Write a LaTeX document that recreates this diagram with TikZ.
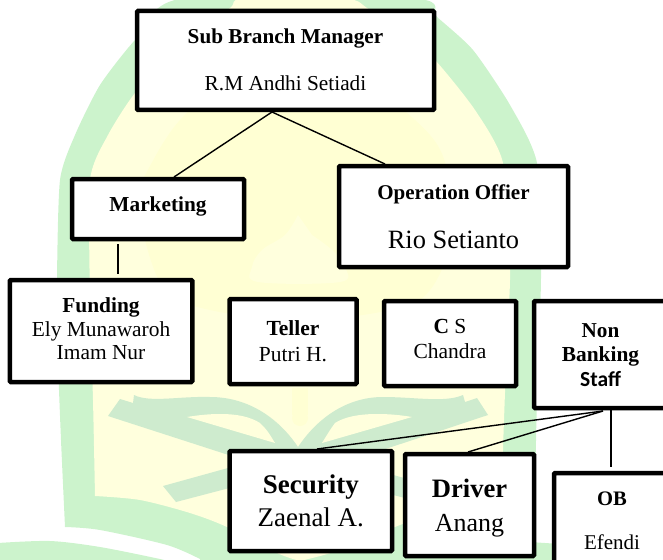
\documentclass[tikz,border=0pt]{standalone}
\usepackage{fontspec}
\setmainfont{Liberation Serif}
\newfontfamily\calib{Carlito}
\definecolor{wmgreen}{HTML}{CCF3CC}
\definecolor{wmbook}{HTML}{CEEBCE}
\definecolor{wmyellow}{HTML}{FFFFDD}
\definecolor{wmdeep}{HTML}{FFFFD3}
\newcommand{\Ln}[4]{\makebox[0pt][c]{\raisebox{#1pt}[0pt][0pt]{\fontsize{#2}{#2}\selectfont #3{#4}}}}
\tikzset{
  orgbox/.style={draw=black,fill=white,line width=4.5pt,rounded corners=1pt,inner sep=0pt,text=black},
  link/.style={draw=black,line width=1.4pt},
}
\begin{document}
\begin{tikzpicture}[x=1pt,y=-1pt]
\useasboundingbox (0,0) rectangle (663,559);
\clip (0,0) rectangle (663,559);
% watermark
\fill[wmgreen] plot[smooth,tension=.4] coordinates {(65,527)(61,440)(58,360)(57,280)(60,180)(75,135)(100,85)(135,40)(180,-1)(417,-1)(437,17)(473,50)(510,105)(537,163)(541,270)(539,340)(536,440)(536,559)}
  -- (200,559) -- plot[smooth,tension=.5] coordinates {(200,559)(167,545)(100,530)(65,527)} -- cycle;
\fill[wmgreen] plot[smooth,tension=.5] coordinates {(-2,543)(50,541)(100,547)(160,559)(165,561)} -- (-2,561) -- cycle;
\fill[wmgreen] (530,542) -- (560,544) -- (560,561) -- (530,561) -- cycle;
\fill[wmgreen] (200,559) -- (530,559) -- (530,561) -- (200,561) -- cycle;
\fill[wmyellow] plot[smooth,tension=.4] coordinates {(95,496)(93,400)(90,300)(90,180)(108,135)(135,93)(180,45)(230,8)(242,-1)(347,-1)(367,8)(400,30)(435,60)(475,110)(503,163)(510,270)(507,340)(503,450)(503,500)}
  -- plot[smooth,tension=.5] coordinates {(503,500)(460,505)(400,525)(340,550)(300,561)}
  -- plot[smooth,tension=.5] coordinates {(300,561)(277,553)(227,527)(190,513)(140,500)(95,496)} -- cycle;
% faint emblem
\fill[wmdeep] plot[smooth,tension=.6] coordinates {(140,185)(165,140)(190,110)(240,70)(295,50)(350,70)(430,135)(450,185)(455,230)(430,290)(390,310)(300,320)(210,310)(165,290)(145,240)} -- cycle;
\fill[wmyellow] plot[smooth,tension=.6] coordinates {(298,215)(285,235)(262,250)(252,267)(258,282)(340,282)(345,267)(332,250)(312,235)} -- cycle;
\fill[wmdeep] (292,388) rectangle (308,415);
\fill[wmdeep] (300,418) circle (8);
% book
\fill[wmbook] (108,416) -- (120,399) -- (133,403) -- (134,395)
  .. controls (150,403) and (180,396) .. (210,397)
  .. controls (250,397) and (280,420) .. (298,447)
  .. controls (316,420) and (345,397) .. (383,397)
  .. controls (415,397) and (445,403) .. (463,395)
  -- (465,402) -- (477,398) -- (488,415) -- (322,470) -- (298,470) -- (275,470) -- cycle;
\fill[wmyellow] (187,417) .. controls (205,414) and (240,410) .. (260,423) .. controls (267,430) .. (275,443) -- cycle;
\fill[wmyellow] (412,417) .. controls (395,414) and (355,410) .. (335,423) .. controls (330,430) .. (322,443) -- cycle;
\fill[wmbook] (163,486) -- (228,468) -- (368,468) -- (433,486) -- (420,502) -- (298,470) -- (176,502) -- cycle;
% boxes
\node[orgbox,minimum width=297pt,minimum height=99pt] (sub) at (285.5,60.5)
  {\Ln{17}{21.2}{\bfseries}{Sub Branch Manager}\Ln{-30}{21.3}{}{R.M Andhi Setiadi}};
\node[orgbox,minimum width=172pt,minimum height=60pt] (mkt) at (158,209)
  {\Ln{-2}{21.3}{\bfseries}{Marketing}};
\node[orgbox,minimum width=229pt,minimum height=101pt] (ops) at (453.5,216.5)
  {\Ln{17}{21}{\bfseries}{Operation Offier}\Ln{-32}{26.4}{}{Rio Setianto}};
\node[orgbox,minimum width=182.5pt,minimum height=102pt] (fund) at (101,331)
  {\Ln{19}{21.4}{\bfseries}{Funding}\Ln{-5}{21.4}{}{Ely Munawaroh}\Ln{-28}{21.4}{}{Imam Nur}};
\node[orgbox,minimum width=127pt,minimum height=85pt] (tell) at (293,341.5)
  {\Ln{6.5}{21.5}{\bfseries}{Teller}\Ln{-19.5}{21.5}{}{Putri H.}};
\node[orgbox,minimum width=132pt,minimum height=85pt] (cs) at (450,343.5)
  {\Ln{10.5}{21.5}{}{\textbf{C} S}\Ln{-14.5}{21.5}{}{Chandra}};
\node[orgbox,minimum width=133pt,minimum height=107pt] (non) at (600.5,354.5)
  {\Ln{17.5}{21.2}{\bfseries}{Non}\Ln{-6.5}{21.4}{\bfseries}{Banking}\Ln{-31.5}{21.5}{\calib\bfseries}{Staff}};
\node[orgbox,minimum width=162.5pt,minimum height=100pt] (sec) at (310.75,501)
  {\Ln{8}{27}{\bfseries}{Security}\Ln{-25}{27}{}{Zaenal A.}};
\node[orgbox,minimum width=129pt,minimum height=102pt] (drv) at (469.5,505)
  {\Ln{8}{26.6}{\bfseries}{Driver}\Ln{-26}{26}{}{Anang}};
\node[orgbox,minimum width=116pt,minimum height=100pt] (ob) at (612,523)
  {\Ln{18}{20.6}{\bfseries}{OB}\Ln{-26}{21}{}{Efendi}};
% connectors
\coordinate (subfoot) at (272,112);
\coordinate (nonfootA) at (603,411);
\coordinate (nonfootB) at (611,410);
\coordinate (mkttop) at (174,177);
\coordinate (opstop) at (385,164);
\coordinate (mktfoot) at (118,244);
\coordinate (fundtop) at (118,274);
\coordinate (sectop) at (317,449);
\coordinate (drvtop) at (468,452);
\coordinate (obtop) at (611,467);
\draw[link] (subfoot) -- (mkttop);
\draw[link] (subfoot) -- (opstop);
\draw[link] (mktfoot) -- (fundtop);
\draw[link] (nonfootA) -- (sectop);
\draw[link] (nonfootA) -- (drvtop);
\draw[link] (nonfootB) -- (obtop);
\end{tikzpicture}
\end{document}
